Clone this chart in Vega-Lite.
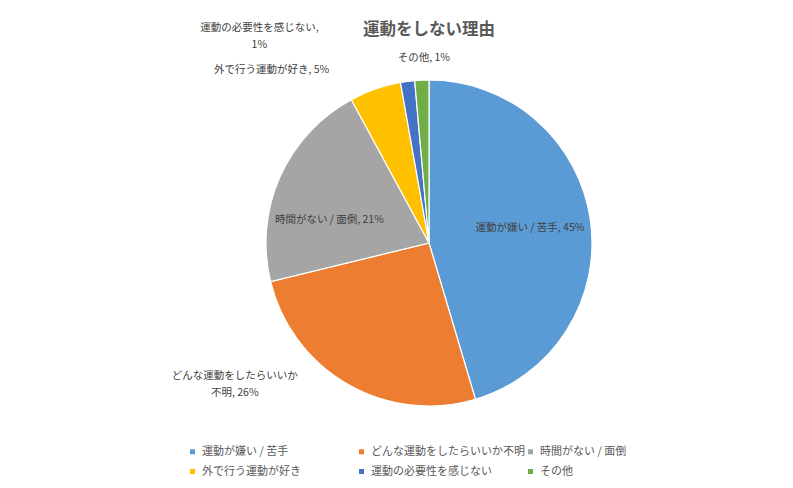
{
  "$schema": "https://vega.github.io/schema/vega-lite/v6.json",
  "width": 728,
  "height": 406,
  "autosize": {"type": "none"},
  "padding": {"left": 65, "top": 40, "right": 0, "bottom": 42},
  "background": "white",
  "title": {
    "text": "運動をしない理由",
    "font": "Noto Sans CJK JP",
    "fontSize": 16.5,
    "fontWeight": "bold",
    "color": "#595959",
    "anchor": "middle",
    "offset": -17
  },
  "config": {"view": {"stroke": null}},
  "data": {
    "values": [
      {"idx": 1, "cat": "運動が嫌い / 苦手", "value": 45.4, "label": "運動が嫌い / 苦手, 45%"},
      {"idx": 2, "cat": "どんな運動をしたらいいか不明", "value": 25.8, "label": "どんな運動をしたらいいか\n不明, 26%"},
      {"idx": 3, "cat": "時間がない / 面倒", "value": 20.9, "label": "時間がない / 面倒, 21%"},
      {"idx": 4, "cat": "外で行う運動が好き", "value": 5.1, "label": "外で行う運動が好き, 5%"},
      {"idx": 5, "cat": "運動の必要性を感じない", "value": 1.4, "label": "運動の必要性を感じない,\n1%"},
      {"idx": 6, "cat": "その他", "value": 1.4, "label": "その他, 1%"}
    ]
  },
  "encoding": {
    "theta": {"field": "value", "type": "quantitative", "stack": true},
    "order": {"field": "idx", "type": "quantitative"}
  },
  "layer": [
    {
      "mark": {"type": "arc", "radius": 163, "stroke": "white", "strokeWidth": 1.2},
      "encoding": {
        "color": {
          "field": "cat",
          "type": "nominal",
          "sort": ["運動が嫌い / 苦手", "どんな運動をしたらいいか不明", "時間がない / 面倒", "外で行う運動が好き", "運動の必要性を感じない", "その他"],
          "scale": {
            "domain": ["運動が嫌い / 苦手", "どんな運動をしたらいいか不明", "時間がない / 面倒", "外で行う運動が好き", "運動の必要性を感じない", "その他"],
            "range": ["#5B9BD5", "#ED7D31", "#A5A5A5", "#FFC000", "#4472C4", "#70AD47"]
          },
          "legend": {
            "title": null,
            "orient": "none",
            "direction": "horizontal",
            "legendX": 122,
            "legendY": 406,
            "columns": 3,
            "gridAlign": "all",
            "columnPadding": -8,
            "rowPadding": 8,
            "symbolType": "square",
            "symbolSize": 25,
            "symbolStrokeWidth": 0,
            "labelOffset": 4,
            "labelFont": "Noto Sans CJK JP",
            "labelFontSize": 11,
            "labelColor": "#595959",
            "labelLimit": 300
          }
        }
      }
    },
    {
      "mark": {"type": "text", "radius": 102, "font": "Noto Sans CJK JP", "fontSize": 10.5, "color": "#404040", "align": "center", "baseline": "middle"},
      "encoding": {"text": {"condition": {"test": "datum.idx === 1", "field": "label"}, "value": ""}}
    },
    {
      "mark": {"type": "text", "radius": 109, "dy": 21, "font": "Noto Sans CJK JP", "fontSize": 10.5, "color": "#404040", "align": "center", "baseline": "middle"},
      "encoding": {"text": {"condition": {"test": "datum.idx === 3", "field": "label"}, "value": ""}}
    },
    {
      "mark": {"type": "text", "radius": 163, "dx": -113, "dy": -8, "lineBreak": "\n", "lineHeight": 17, "font": "Noto Sans CJK JP", "fontSize": 10.5, "color": "#404040", "align": "center", "baseline": "middle"},
      "encoding": {"text": {"condition": {"test": "datum.idx === 2", "field": "label"}, "value": ""}}
    },
    {
      "mark": {"type": "text", "radius": 183, "dx": -97, "font": "Noto Sans CJK JP", "fontSize": 10.5, "color": "#404040", "align": "center", "baseline": "middle"},
      "encoding": {"text": {"condition": {"test": "datum.idx === 4", "field": "label"}, "value": ""}}
    },
    {
      "mark": {"type": "text", "radius": 210, "dx": -142, "dy": -7, "lineBreak": "\n", "lineHeight": 17, "font": "Noto Sans CJK JP", "fontSize": 10.5, "color": "#404040", "align": "center", "baseline": "middle"},
      "encoding": {"text": {"condition": {"test": "datum.idx === 5", "field": "label"}, "value": ""}}
    },
    {
      "mark": {"type": "text", "radius": 185, "dx": 3, "font": "Noto Sans CJK JP", "fontSize": 10.5, "color": "#404040", "align": "center", "baseline": "middle"},
      "encoding": {"text": {"condition": {"test": "datum.idx === 6", "field": "label"}, "value": ""}}
    }
  ]
}
